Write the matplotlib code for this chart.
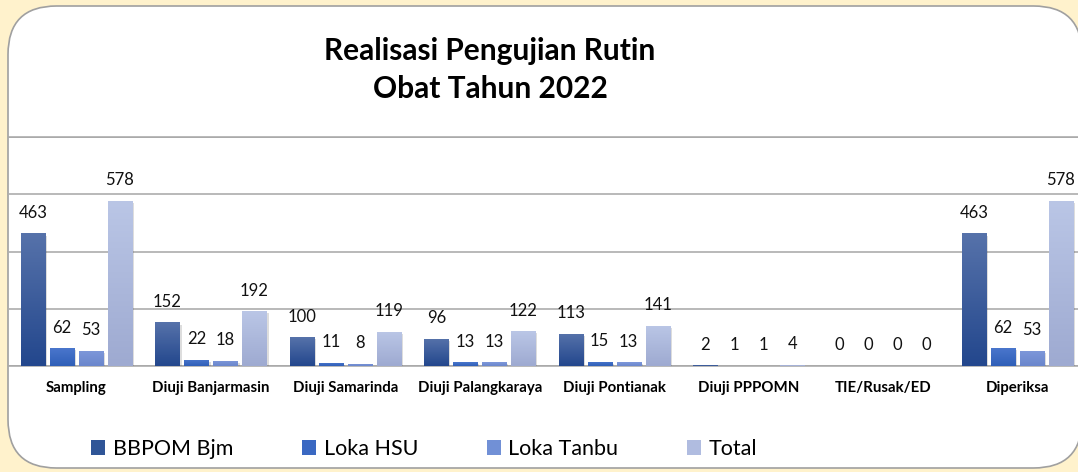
import numpy as np
import matplotlib.pyplot as plt
from matplotlib.patches import FancyBboxPatch, Patch
from matplotlib.colors import LinearSegmentedColormap
import matplotlib.patheffects as pe

plt.rcParams['font.family'] = ['Lato', 'DejaVu Sans']

# data
categories = ['Sampling', 'Diuji Banjarmasin', 'Diuji Samarinda', 'Diuji Palangkaraya',
              'Diuji Pontianak', 'Diuji PPPOMN', 'TIE/Rusak/ED', 'Diperiksa']
series_names = ['BBPOM Bjm', 'Loka HSU', 'Loka Tanbu', 'Total']
bbpom = [463, 152, 100, 96, 113, 2, 0, 463]
loka_hsu = [62, 22, 11, 13, 15, 1, 0, 62]
loka_tanbu = [53, 18, 8, 13, 13, 1, 0, 53]
total = [578, 192, 119, 122, 141, 4, 0, 578]
colors = ['#2f5597', '#3a68c2', '#7190d6', '#b0bce0']
# gradient top / bottom colours for each series
grad_colors = [('#5672aa', '#23478d'), ('#4a76cc', '#2f5fb8'),
               ('#7e98da', '#6a86cc'), ('#bac6e6', '#9eaad1')]

W, H = 1078, 472
fig = plt.figure(figsize=(W / 100, H / 100), dpi=100)
fig.patch.set_facecolor('#fff2cc')

# white rounded chart area
box = FancyBboxPatch((8 / W, 4 / H), 1074 / W, 462 / H,
                     boxstyle='round,pad=0,rounding_size=0.045',
                     transform=fig.transFigure, facecolor='white',
                     edgecolor='#a0a0a0', linewidth=1.2, zorder=-5,
                     mutation_aspect=W / H)
fig.patches.append(box)

ax = fig.add_axes([9.3 / W, (H - 366) / H, 1075.4 / W, (366 - 137) / H])
ax.set_facecolor('none')

x = np.arange(len(categories))
width = 24 / 134.4
pitch = 29 / 134.4
all_series = [bbpom, loka_hsu, loka_tanbu, total]
shadow = [pe.SimplePatchShadow(offset=(1.5, -1.5), alpha=0.18, shadow_rgbFace='#444444'), pe.Normal()]
grad = np.linspace(1, 0, 64).reshape(-1, 1)
for i, (vals, name, c) in enumerate(zip(all_series, series_names, colors)):
    bars = ax.bar(x + (i - 1.5) * pitch, vals, width, color=c, label=name, zorder=3)
    cmap = LinearSegmentedColormap.from_list(name, [grad_colors[i][1], grad_colors[i][0]])
    for b in bars:
        b.set_path_effects(shadow)
        if b.get_height() > 0:
            im = ax.imshow(grad, extent=[b.get_x(), b.get_x() + b.get_width(), 0, b.get_height()],
                           aspect='auto', cmap=cmap, vmin=0, vmax=1, zorder=3.5)
            im.set_clip_path(b)
    ax.bar_label(bars, labels=[str(v) for v in vals], padding=9, fontsize=12,
                 color='#111111', zorder=4)

ax.set_xlim(-0.5, len(categories) - 0.5)
ax.set_ylim(0, 800)
ax.set_yticks([0, 200, 400, 600, 800])
ax.yaxis.grid(True, color='#a6a6a6', linewidth=1.1, zorder=0)
ax.tick_params(axis='y', left=False, labelleft=False)
ax.tick_params(axis='x', length=0, pad=11)
ax.set_xticks(x)
ax.set_xticklabels(categories, fontsize=10.8, fontweight='bold')
for s in ['left', 'right']:
    ax.spines[s].set_visible(False)
ax.spines['top'].set_color('#a6a6a6')
ax.spines['bottom'].set_color('#a6a6a6')
ax.spines['bottom'].set_linewidth(1.1)
ax.spines['top'].set_linewidth(1.1)

fig.text(490 / W, 1 - 51 / H, 'Realisasi Pengujian Rutin', ha='center', va='center',
         fontsize=21.5, fontweight='bold')
fig.text(490 / W, 1 - 89 / H, 'Obat Tahun 2022', ha='center', va='center',
         fontsize=21.5, fontweight='bold')

handles = [Patch(facecolor=c, label=n) for c, n in zip(colors, series_names)]
fig.legend(handles=handles, loc='center left', bbox_to_anchor=(72 / W, 1 - 449 / H),
           ncol=4, frameon=False, fontsize=15.5, handlelength=0.65, handleheight=0.65,
           handletextpad=0.35, columnspacing=3.2)

fig.savefig('out.png', dpi=100, facecolor=fig.get_facecolor())
